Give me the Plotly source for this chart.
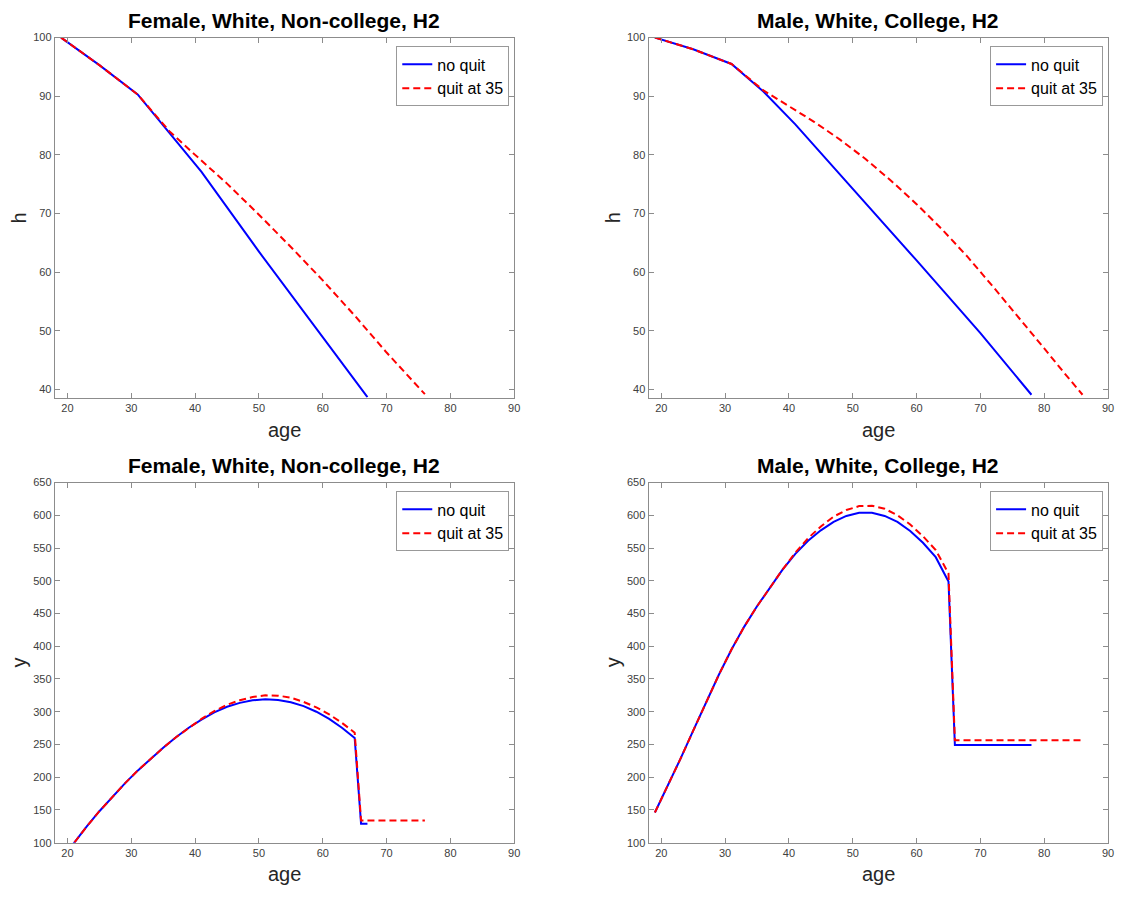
import plotly.graph_objects as go

# ---------------- data ----------------
# Top-left: Female, White, Non-college, H2  (h)
age_hf_noquit = [19, 25, 31, 36, 41, 50, 60, 67]
h_f_noquit = [100, 95.3, 90.3, 83.7, 77.1, 63.5, 49.0, 38.7]
age_hf_quit = [19, 25, 31, 36, 40, 45, 50, 55, 60, 65, 70, 76]
h_f_quit = [100, 95.3, 90.3, 84.0, 80.0, 75.1, 69.8, 64.3, 58.6, 52.6, 46.3, 39.2]

# Top-right: Male, White, College, H2  (h)
age_hm_noquit = [19, 25, 31, 36, 41, 50, 60, 70, 78]
h_m_noquit = [100, 98.0, 95.5, 90.8, 85.2, 74.3, 62.0, 49.6, 39.1]
age_hm_quit = [19, 25, 31, 36, 40, 44, 48, 52, 56, 60, 64, 68, 72, 76, 80, 83, 86]
h_m_quit = [100, 98.0, 95.5, 91.0, 88.3, 85.6, 82.6, 79.3, 75.6, 71.6, 67.3, 62.6, 57.5, 52.3, 47.0, 43.0, 39.1]

# Bottom-left: Female, White, Non-college, H2  (y)
age_yf_noquit = [19, 21, 23, 25, 27, 29, 31, 33, 35, 37, 39, 41, 43, 45, 47, 49, 51, 53,
                 55, 57, 59, 61, 63, 65, 66, 67]
y_f_noquit = [74, 100, 124.5, 148, 170, 190.5, 210, 228, 245, 261, 275.5, 288, 299, 307.5,
              313.5, 317.5, 319, 318, 314.5, 308.5, 300, 289, 275.5, 260, 129, 129]
age_yf_quit = [19, 21, 23, 25, 27, 29, 31, 33, 35, 37, 39, 41, 43, 45, 47, 49, 51, 53,
               55, 57, 59, 61, 63, 65, 66, 76]
y_f_quit = [74, 100, 124.5, 148, 170, 190.5, 210, 228, 245, 261, 275.5, 289, 301, 310.5,
            317.5, 322.5, 325, 324.5, 321.5, 315, 306.5, 296, 283, 268, 134, 134]

# Bottom-right: Male, White, College, H2  (y)
age_ym_noquit = [19, 21, 23, 25, 27, 29, 31, 33, 35, 37, 39, 41, 43, 45, 47, 49, 51, 53,
                 55, 57, 59, 61, 63, 65, 66, 78]
y_m_noquit = [146, 186, 228, 271, 314, 356, 395, 430, 461, 490, 517, 541, 561, 577, 590,
              599, 604, 604, 599, 590, 576, 558, 536, 499, 249, 249]
age_ym_quit = [19, 21, 23, 25, 27, 29, 31, 33, 35, 37, 39, 41, 43, 45, 47, 49, 51, 53,
               55, 57, 59, 61, 63, 65, 66, 86]
y_m_quit = [146, 186, 228, 271, 314, 356, 395, 430, 461, 490, 517, 543, 565, 583, 598,
            608, 614, 614.5, 610, 600, 586, 568, 547, 511, 256.5, 256.5]

titles = ["Female, White, Non-college, H2", "Male, White, College, H2",
          "Female, White, Non-college, H2", "Male, White, College, H2"]
series_names = ["no quit", "quit at 35"]
ylabels = ["h", "h", "y", "y"]
xlabel = "age"

# ---------------- layout geometry (pixels) ----------------
W, H = 1125, 898
FONT = "Liberation Sans, Arial, Helvetica, sans-serif"
panels = [
    # (x0, x1, ytop, ybottom)
    (55, 517, 32, 397),
    (652, 1114, 32, 397),
    (55, 517, 483, 848),
    (652, 1114, 483, 848),
]

def px(x):
    return x / W

def py(y):
    return 1 - y / H

data_sets = [
    (age_hf_noquit, h_f_noquit, age_hf_quit, h_f_quit),
    (age_hm_noquit, h_m_noquit, age_hm_quit, h_m_quit),
    (age_yf_noquit, y_f_noquit, age_yf_quit, y_f_quit),
    (age_ym_noquit, y_m_noquit, age_ym_quit, y_m_quit),
]

fig = go.Figure()
legend_keys = ["legend", "legend2", "legend3", "legend4"]

for i, (ax1, ay1, ax2, ay2) in enumerate(data_sets):
    xa = "x" if i == 0 else f"x{i+1}"
    ya = "y" if i == 0 else f"y{i+1}"
    fig.add_trace(go.Scatter(x=ax1, y=ay1, mode="lines", name=series_names[0],
                             line=dict(color="#0000ff", width=2),
                             xaxis=xa, yaxis=ya, legend=legend_keys[i]))
    fig.add_trace(go.Scatter(x=ax2, y=ay2, mode="lines", name=series_names[1],
                             line=dict(color="#ff0000", width=2, dash="7px,4px"),
                             xaxis=xa, yaxis=ya, legend=legend_keys[i]))

layout = dict(
    width=W, height=H,
    margin=dict(l=0, r=0, t=0, b=0),
    paper_bgcolor="white", plot_bgcolor="white",
    font=dict(family=FONT, color="#262626"),
    showlegend=True,
)

axis_common = dict(
    showline=True, linecolor="#8c8c8c", linewidth=1, mirror="ticks",
    ticks="inside", ticklen=5, tickcolor="#8c8c8c", tickwidth=1,
    showgrid=False, zeroline=False,
    tickfont=dict(family=FONT, size=11, color="#404040"),
)

annotations = []
for i, (x0, x1, yt, yb) in enumerate(panels):
    xk = "xaxis" if i == 0 else f"xaxis{i+1}"
    yk = "yaxis" if i == 0 else f"yaxis{i+1}"
    ya_name = "y" if i == 0 else f"y{i+1}"
    xa_name = "x" if i == 0 else f"x{i+1}"
    layout[xk] = dict(axis_common, domain=[px(x0), px(x1)], range=[18, 90],
                      tick0=20, dtick=10, anchor=ya_name)
    if i < 2:
        layout[yk] = dict(axis_common, domain=[py(yb), py(yt)], range=[38.6, 100],
                          tick0=40, dtick=10, anchor=xa_name)
    else:
        layout[yk] = dict(axis_common, domain=[py(yb), py(yt)], range=[100, 650],
                          tick0=100, dtick=50, anchor=xa_name)
    # title
    ty = 15 if i < 2 else 466
    annotations.append(dict(text=titles[i], x=px((x0 + x1) / 2), y=py(ty),
                            xref="paper", yref="paper", showarrow=False,
                            xanchor="center", yanchor="middle",
                            font=dict(family=FONT, size=21, color="black", weight="bold")))
    # x label
    ly = 430 if i < 2 else 880
    annotations.append(dict(text=xlabel, x=px((x0 + x1) / 2), y=py(ly),
                            xref="paper", yref="paper", showarrow=False,
                            xanchor="center", yanchor="middle",
                            font=dict(family=FONT, size=20, color="#262626")))
    # y label
    lx = x0 - 36
    annotations.append(dict(text=ylabels[i], x=px(lx), y=py((yt + yb) / 2),
                            xref="paper", yref="paper", showarrow=False,
                            xanchor="center", yanchor="middle", textangle=-90,
                            font=dict(family=FONT, size=20, color="#262626")))
    # legend
    layout[legend_keys[i]] = dict(
        x=px(x1 - 5), y=py(yt + 9), xanchor="right", yanchor="top",
        bgcolor="white", bordercolor="#999999", borderwidth=1,
        font=dict(family=FONT, size=16, color="black"),
        itemwidth=30, tracegroupgap=0,
    )

layout["annotations"] = annotations
fig.update_layout(**layout)

fig.write_html("out.html", config={"displayModeBar": False},
               post_script="document.body.style.margin='0px';")
